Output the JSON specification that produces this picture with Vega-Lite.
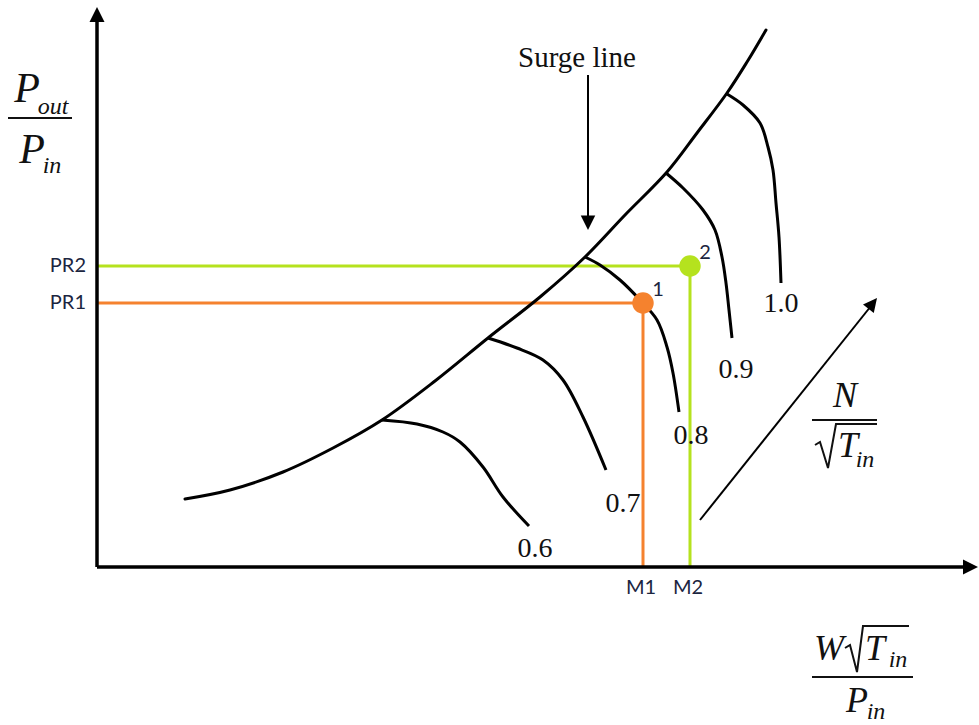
{
  "$schema": "https://vega.github.io/schema/vega-lite/v6.json",
  "width": 979,
  "height": 725,
  "padding": 0,
  "autosize": {"type": "none"},
  "background": "white",
  "config": {"view": {"stroke": null}},
  "datasets": {
    "surge": [
      {"i": 0, "x": 8.8, "y": 6.8}, {"i": 1, "x": 13.3, "y": 7.7}, {"i": 2, "x": 18.6, "y": 9.5},
      {"i": 3, "x": 23.6, "y": 11.9}, {"i": 4, "x": 28.5, "y": 14.7}, {"i": 5, "x": 33.8, "y": 18.6},
      {"i": 6, "x": 39.1, "y": 22.9}, {"i": 7, "x": 44.3, "y": 27.0}, {"i": 8, "x": 48.8, "y": 31.0},
      {"i": 9, "x": 52.8, "y": 35.2}, {"i": 10, "x": 57.0, "y": 39.5}, {"i": 11, "x": 60.0, "y": 43.4},
      {"i": 12, "x": 63.0, "y": 47.4}, {"i": 13, "x": 65.0, "y": 50.5}, {"i": 14, "x": 66.9, "y": 53.7}
    ],
    "speed": [
      {"N": 0.6, "i": 0, "x": 28.5, "y": 14.7}, {"N": 0.6, "i": 1, "x": 32.0, "y": 14.3}, {"N": 0.6, "i": 2, "x": 34.6, "y": 13.5},
      {"N": 0.6, "i": 3, "x": 36.3, "y": 12.5}, {"N": 0.6, "i": 4, "x": 38.6, "y": 10.0}, {"N": 0.6, "i": 5, "x": 40.6, "y": 7.0},
      {"N": 0.6, "i": 6, "x": 43.2, "y": 4.1},
      {"N": 0.7, "i": 0, "x": 39.1, "y": 22.9}, {"N": 0.7, "i": 1, "x": 42.0, "y": 21.9}, {"N": 0.7, "i": 2, "x": 44.6, "y": 20.7},
      {"N": 0.7, "i": 3, "x": 46.6, "y": 18.7}, {"N": 0.7, "i": 4, "x": 48.6, "y": 15.0}, {"N": 0.7, "i": 5, "x": 50.9, "y": 9.7},
      {"N": 0.8, "i": 0, "x": 48.8, "y": 31.0}, {"N": 0.8, "i": 1, "x": 50.3, "y": 30.2}, {"N": 0.8, "i": 2, "x": 52.3, "y": 28.7},
      {"N": 0.8, "i": 3, "x": 54.3, "y": 26.7}, {"N": 0.8, "i": 4, "x": 56.0, "y": 24.7}, {"N": 0.8, "i": 5, "x": 57.0, "y": 22.0},
      {"N": 0.8, "i": 6, "x": 57.6, "y": 19.4}, {"N": 0.8, "i": 7, "x": 58.2, "y": 15.5},
      {"N": 0.9, "i": 0, "x": 56.9, "y": 39.4}, {"N": 0.9, "i": 1, "x": 58.6, "y": 37.9}, {"N": 0.9, "i": 2, "x": 60.6, "y": 35.7},
      {"N": 0.9, "i": 3, "x": 61.8, "y": 33.7}, {"N": 0.9, "i": 4, "x": 62.5, "y": 31.0}, {"N": 0.9, "i": 5, "x": 62.9, "y": 28.4},
      {"N": 0.9, "i": 6, "x": 63.2, "y": 25.7}, {"N": 0.9, "i": 7, "x": 63.5, "y": 22.9},
      {"N": 1.0, "i": 0, "x": 63.0, "y": 47.3}, {"N": 1.0, "i": 1, "x": 64.6, "y": 46.2}, {"N": 1.0, "i": 2, "x": 66.3, "y": 44.4},
      {"N": 1.0, "i": 3, "x": 67.1, "y": 42.0}, {"N": 1.0, "i": 4, "x": 67.6, "y": 39.7}, {"N": 1.0, "i": 5, "x": 67.9, "y": 36.4},
      {"N": 1.0, "i": 6, "x": 68.2, "y": 33.0}, {"N": 1.0, "i": 7, "x": 68.4, "y": 28.4}
    ],
    "speedLabels": [
      {"N": 0.6, "x": 43.8, "y": 1.0},
      {"N": 0.7, "x": 52.6, "y": 5.5},
      {"N": 0.8, "x": 59.4, "y": 12.3},
      {"N": 0.9, "x": 63.9, "y": 18.9},
      {"N": 1.0, "x": 68.4, "y": 25.5}
    ],
    "ops": [
      {"pt": "1", "pr": "PR1", "m": "M1", "x": 54.6, "y": 26.4},
      {"pt": "2", "pr": "PR2", "m": "M2", "x": 59.3, "y": 30.1}
    ],
    "axes": [
      {"x": 0, "y": 0, "x2": 0, "y2": 54.7},
      {"x": 0, "y": 0, "x2": 86.6, "y2": 0}
    ],
    "pointers": [
      {"x": 49.1, "y": 49.2, "x2": 49.1, "y2": 34.9},
      {"x": 60.3, "y": 4.7, "x2": 77.4, "y2": 26.1}
    ],
    "heads": [
      {"at": "pressure axis", "x": 0, "y": 56.0},
      {"at": "flow axis", "x": 88.1, "y": 0},
      {"at": "surge", "x": 49.1, "y": 33.7},
      {"at": "speed", "x": 78.0, "y": 26.9}
    ],
    "notation": [
      {"label": "pressure", "role": "symbol", "t": "P", "x": -7.0, "y": 46.5},
      {"label": "pressure", "role": "symbol", "t": "P", "x": -6.5, "y": 40.4},
      {"label": "pressure", "role": "subscript", "t": "out", "x": -4.4, "y": 45.3},
      {"label": "pressure", "role": "subscript", "t": "in", "x": -4.5, "y": 39.4},
      {"label": "flow", "role": "symbol", "t": "W", "x": 73.2, "y": -9.3},
      {"label": "flow", "role": "symbol", "t": "T", "x": 77.8, "y": -9.3},
      {"label": "flow", "role": "subscript", "t": "in", "x": 80.1, "y": -10.0},
      {"label": "flow", "role": "symbol", "t": "P", "x": 76.0, "y": -14.5},
      {"label": "flow", "role": "subscript", "t": "in", "x": 77.9, "y": -15.2},
      {"label": "speed", "role": "symbol", "t": "N", "x": 74.8, "y": 16.0},
      {"label": "speed", "role": "symbol", "t": "T", "x": 75.1, "y": 11.0},
      {"label": "speed", "role": "subscript", "t": "in", "x": 76.8, "y": 10.0}
    ],
    "bars": [
      {"label": "pressure", "x": -8.9, "x2": -2.5, "y": 44.9},
      {"label": "flow", "x": 71.5, "x2": 81.6, "y": -11.0},
      {"label": "speed", "x": 71.5, "x2": 78.0, "y": 14.7}
    ],
    "radicals": [
      {"label": "flow", "i": 0, "x": 74.8, "y": -8.1}, {"label": "flow", "i": 1, "x": 75.3, "y": -7.8},
      {"label": "flow", "i": 2, "x": 76.0, "y": -10.5}, {"label": "flow", "i": 3, "x": 76.6, "y": -5.9},
      {"label": "flow", "i": 4, "x": 81.2, "y": -5.9},
      {"label": "speed", "i": 0, "x": 71.8, "y": 12.2}, {"label": "speed", "i": 1, "x": 72.3, "y": 12.5},
      {"label": "speed", "i": 2, "x": 73.1, "y": 9.9}, {"label": "speed", "i": 3, "x": 73.9, "y": 14.3},
      {"label": "speed", "i": 4, "x": 78.0, "y": 14.3}
    ],
    "titles": [
      {"t": "Surge line", "x": 48.0, "y": 50.0}
    ]
  },
  "encoding": {
    "x": {"field": "x", "type": "quantitative", "scale": {"domain": [-9.7, 88.2], "nice": false, "zero": false}, "axis": null},
    "y": {"field": "y", "type": "quantitative", "scale": {"domain": [-15.8, 56.7], "nice": false, "zero": false}, "axis": null}
  },
  "layer": [
    {
      "data": {"name": "ops"},
      "mark": {"type": "rule", "strokeWidth": 3},
      "encoding": {
        "x": {"datum": 0, "type": "quantitative"},
        "x2": {"field": "x"},
        "color": {"field": "pt", "type": "nominal", "scale": {"domain": ["1", "2"], "range": ["#f5822e", "#b5e21e"]}, "legend": null}
      }
    },
    {
      "data": {"name": "ops"},
      "mark": {"type": "rule", "strokeWidth": 3},
      "encoding": {
        "y": {"datum": 0, "type": "quantitative"},
        "y2": {"field": "y"},
        "color": {"field": "pt", "type": "nominal", "legend": null}
      }
    },
    {
      "data": {"name": "surge"},
      "mark": {"type": "line", "color": "black", "strokeWidth": 3, "interpolate": "catmull-rom", "strokeCap": "round"},
      "encoding": {"order": {"field": "i", "type": "quantitative"}}
    },
    {
      "data": {"name": "speed"},
      "mark": {"type": "line", "color": "black", "strokeWidth": 3, "interpolate": "catmull-rom", "strokeCap": "butt"},
      "encoding": {
        "detail": {"field": "N", "type": "nominal"},
        "order": {"field": "i", "type": "quantitative"}
      }
    },
    {
      "data": {"name": "axes"},
      "mark": {"type": "rule", "color": "black", "strokeWidth": 3.5},
      "encoding": {"x2": {"field": "x2"}, "y2": {"field": "y2"}}
    },
    {
      "data": {"name": "pointers"},
      "mark": {"type": "rule", "color": "black", "strokeWidth": 2},
      "encoding": {"x2": {"field": "x2"}, "y2": {"field": "y2"}}
    },
    {
      "data": {"name": "heads"},
      "transform": [{"filter": "datum.at === 'pressure axis'"}],
      "mark": {"type": "point", "shape": "M0,0L-1,2L1,2Z", "filled": true, "color": "black", "opacity": 1, "size": 225, "angle": 0}
    },
    {
      "data": {"name": "heads"},
      "transform": [{"filter": "datum.at === 'flow axis'"}],
      "mark": {"type": "point", "shape": "M0,0L-1,2L1,2Z", "filled": true, "color": "black", "opacity": 1, "size": 225, "angle": 90}
    },
    {
      "data": {"name": "heads"},
      "transform": [{"filter": "datum.at === 'surge'"}],
      "mark": {"type": "point", "shape": "M0,0L-1,2L1,2Z", "filled": true, "color": "black", "opacity": 1, "size": 210, "angle": 180}
    },
    {
      "data": {"name": "heads"},
      "transform": [{"filter": "datum.at === 'speed'"}],
      "mark": {"type": "point", "shape": "M0,0L-1,2L1,2Z", "filled": true, "color": "black", "opacity": 1, "size": 190, "angle": 38.6}
    },
    {
      "data": {"name": "ops"},
      "mark": {"type": "point", "shape": "circle", "filled": true, "opacity": 1, "size": 460},
      "encoding": {"color": {"field": "pt", "type": "nominal", "legend": null}}
    },
    {
      "data": {"name": "ops"},
      "mark": {"type": "text", "font": "Lato", "fontSize": 20, "color": "#1b2540", "dx": 15, "dy": -13, "align": "center", "baseline": "middle"},
      "encoding": {"text": {"field": "pt"}}
    },
    {
      "data": {"name": "ops"},
      "mark": {"type": "text", "font": "Lato", "fontSize": 20, "color": "#1b2540", "dx": -11, "align": "right", "baseline": "middle"},
      "encoding": {"x": {"datum": 0, "type": "quantitative"}, "text": {"field": "pr"}}
    },
    {
      "data": {"name": "ops"},
      "mark": {"type": "text", "font": "Lato", "fontSize": 20, "color": "#1b2540", "dy": 21, "dx": -2, "align": "center", "baseline": "middle"},
      "encoding": {"y": {"datum": 0, "type": "quantitative"}, "text": {"field": "m"}}
    },
    {
      "data": {"name": "speedLabels"},
      "mark": {"type": "text", "font": "Liberation Serif", "fontSize": 28, "color": "#111111", "align": "center", "baseline": "alphabetic"},
      "encoding": {"text": {"field": "N", "type": "quantitative", "format": ".1f"}}
    },
    {
      "data": {"name": "titles"},
      "mark": {"type": "text", "font": "Liberation Serif", "fontSize": 29, "color": "#111111", "align": "center", "baseline": "alphabetic"},
      "encoding": {"text": {"field": "t"}}
    },
    {
      "data": {"name": "notation"},
      "transform": [{"filter": "datum.role === 'symbol' && datum.label === 'pressure'"}],
      "mark": {"type": "text", "font": "Liberation Serif", "fontStyle": "italic", "fontSize": 42, "color": "#111111", "align": "center", "baseline": "alphabetic"},
      "encoding": {"text": {"field": "t"}}
    },
    {
      "data": {"name": "notation"},
      "transform": [{"filter": "datum.role === 'symbol' && datum.label !== 'pressure'"}],
      "mark": {"type": "text", "font": "Liberation Serif", "fontStyle": "italic", "fontSize": 36, "color": "#111111", "align": "center", "baseline": "alphabetic"},
      "encoding": {"text": {"field": "t"}}
    },
    {
      "data": {"name": "notation"},
      "transform": [{"filter": "datum.role === 'subscript'"}],
      "mark": {"type": "text", "font": "Liberation Serif", "fontStyle": "italic", "fontSize": 24, "color": "#111111", "align": "center", "baseline": "alphabetic"},
      "encoding": {"text": {"field": "t"}}
    },
    {
      "data": {"name": "bars"},
      "mark": {"type": "rule", "color": "#111111", "strokeWidth": 2},
      "encoding": {"x2": {"field": "x2"}}
    },
    {
      "data": {"name": "radicals"},
      "mark": {"type": "line", "color": "#111111", "strokeWidth": 2, "interpolate": "linear"},
      "encoding": {
        "detail": {"field": "label", "type": "nominal"},
        "order": {"field": "i", "type": "quantitative"}
      }
    }
  ]
}
